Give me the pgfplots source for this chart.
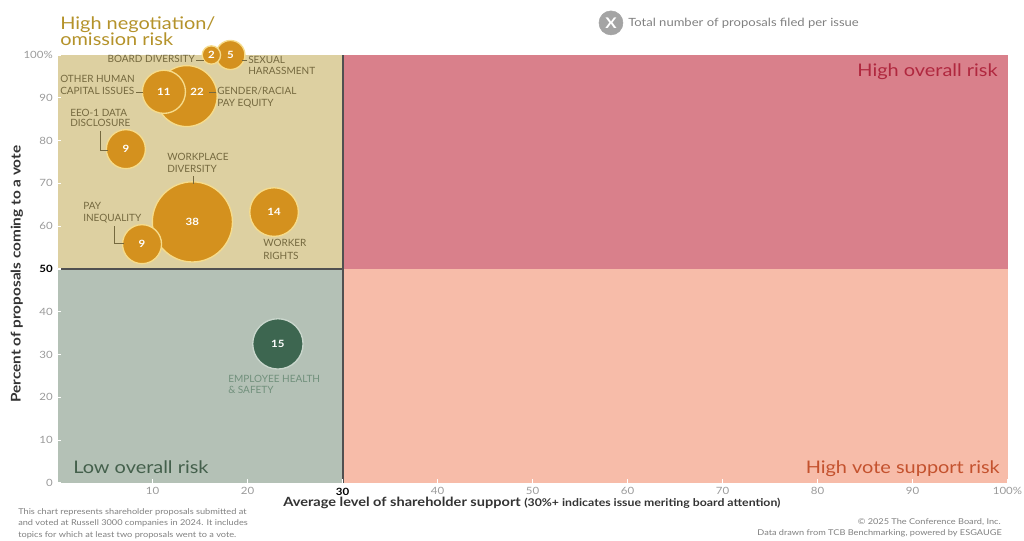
\documentclass[border=0pt]{standalone}
\usepackage{pgfplots}
\pgfplotsset{compat=1.18}
\usepackage{fontspec}
\setmainfont{Lato}[FakeStretch=1.15]
\newfontfamily\lblfont{Lato}
\definecolor{qtan}{HTML}{DDD0A1}
\definecolor{qrose}{HTML}{D9808B}
\definecolor{qgreen}{HTML}{B4C1B6}
\definecolor{qsalmon}{HTML}{F7BCA9}
\definecolor{divider}{HTML}{505050}
\definecolor{gold}{HTML}{D4911E}
\definecolor{goldedge}{HTML}{F6DC8C}
\definecolor{dgreen}{HTML}{3D6650}
\definecolor{dgreenedge}{HTML}{C9D6CC}
\definecolor{titlegold}{HTML}{B4922A}
\definecolor{titlerose}{HTML}{B0283F}
\definecolor{titlegreen}{HTML}{44604C}
\definecolor{titleorange}{HTML}{C4522E}
\definecolor{lbl}{HTML}{75693F}
\definecolor{lblgreen}{HTML}{71907C}
\definecolor{tickgray}{HTML}{9A9A9A}
\definecolor{legendgray}{HTML}{A4A4A4}
\definecolor{notegray}{HTML}{808080}
\definecolor{axlbl}{HTML}{333333}
\newcommand{\fs}[1]{\fontsize{#1}{#1}\selectfont}
% x, y, radius (pt), fill, edge
\newcommand{\bubble}[5]{%
  \addplot[only marks, mark=*, mark size=#3pt,
    mark options={fill=#4, draw=#5, line width=1pt}]
    coordinates {(#1,#2)};}
\begin{document}
\begin{tikzpicture}
\useasboundingbox (-43.125pt,-42.75pt) rectangle (724.875pt,362.25pt);
\begin{axis}[
  scale only axis, width=712.5pt, height=321pt,
  xmin=0, xmax=100, ymin=0, ymax=100,
  clip=false, axis on top,
  axis line style={draw=none},
  xtick={10,20,...,100}, ytick={0,10,...,100},
  xtick pos=bottom, ytick pos=left,
  tick align=inside, major tick length=3pt,
  tick style={white, line width=0.8pt},
  xticklabels={10,20,{\textcolor{black}{\bfseries 30}},40,50,60,70,80,90,100\%},
  yticklabels={0,10,20,30,40,{\textcolor{black}{\bfseries 50}},60,70,80,90,100\%},
  ticklabel style={font=\fs{7.5}, text=tickgray},
  /pgf/number format/assume math mode=true,
]
% quadrants
\fill[qtan] (axis cs:0,50) rectangle (axis cs:30,100);
\fill[qrose] (axis cs:30,50) rectangle (axis cs:100,100);
\fill[qgreen] (axis cs:0,0) rectangle (axis cs:30,50);
\fill[qsalmon] (axis cs:30,0) rectangle (axis cs:100,50);
\draw[divider, line width=1.5pt] (axis cs:30,0) -- (axis cs:30,100);
\draw[divider, line width=1.5pt] (axis cs:0,50) -- (axis cs:30,50);
% bubbles: radius = 4.875*sqrt(count) pt
\bubble{14.2}{61.0}{30.05}{gold}{goldedge}% 38
\bubble{13.6}{90.4}{22.87}{gold}{goldedge}% 22
\bubble{22.8}{63.3}{18.24}{gold}{goldedge}% 14
\bubble{11.2}{91.4}{16.17}{gold}{goldedge}% 11
\bubble{7.2}{78.0}{14.63}{gold}{goldedge}% 9
\bubble{8.9}{55.8}{14.63}{gold}{goldedge}% 9
\bubble{18.2}{100}{10.90}{gold}{goldedge}% 5
\bubble{16.2}{100}{6.89}{gold}{goldedge}% 2
\bubble{23.2}{32.5}{18.88}{dgreen}{dgreenedge}% 15
% counts
\addplot[only marks, mark=none, point meta=explicit symbolic, nodes near coords,
  every node near coord/.append style={anchor=center, inner sep=0, font=\bfseries\fs{7.5}, text=white}]
  coordinates {(14.2,61.0) [38] (14.7,91.4) [22] (22.8,63.3) [14] (11.2,91.4) [11]
               (7.2,78.0) [9] (8.9,55.8) [9] (18.2,100) [5] (16.2,100) [2] (23.2,32.5) [15]};
% legend symbol
\addplot[only marks, mark=*, mark size=9pt, mark options={fill=legendgray, draw=legendgray},
  point meta=explicit symbolic, nodes near coords,
  every node near coord/.append style={anchor=center, inner sep=0, font=\bfseries\fs{11}, text=white}]
  coordinates {(58.26,107.5) [X]};
\end{axis}
\begin{scope}[x=0.75pt, y=-0.75pt, shift={(-43.125pt,362.25pt)}]
% titles
\node[anchor=base west, inner sep=0, text=titlegold, font=\fs{13}] at (60,30) {High negotiation/};
\node[anchor=base west, inner sep=0, text=titlegold, font=\fs{13}] at (60,46) {omission risk};
\node[anchor=base east, inner sep=0, text=titlerose, font=\fs{13}] at (998,77) {High overall risk};
\node[anchor=base west, inner sep=0, text=titlegreen, font=\fs{13}] at (73,473) {Low overall risk};
\node[anchor=base east, inner sep=0, text=titleorange, font=\fs{13}] at (1000,473) {High vote support risk};
% legend text
\node[anchor=base west, inner sep=0, text=notegray, font=\fs{8.5}] at (628,27) {Total number of proposals filed per issue};
% bubble labels
\begin{scope}[every node/.style={inner sep=0, text=lbl, font=\lblfont\fs{7.5}}]
\node[anchor=base east] at (195,63) {BOARD DIVERSITY};
\draw[lbl, line width=0.6pt] (196,60) -- (204,60);
\node[anchor=base west] at (248,64) {SEXUAL};
\node[anchor=base west] at (248,75) {HARASSMENT};
\draw[lbl, line width=0.6pt] (242,60) -- (247,60);
\node[anchor=base west] at (60,83) {OTHER HUMAN};
\node[anchor=base west] at (60,95) {CAPITAL ISSUES};
\draw[lbl, line width=0.6pt] (136,92) -- (143,92);
\node[anchor=base west] at (217,95) {GENDER/RACIAL};
\node[anchor=base west] at (217,107) {PAY EQUITY};
\draw[lbl, line width=0.6pt] (209,92) -- (216,92);
\node[anchor=base west] at (70,116) {EEO-1 DATA};
\node[anchor=base west] at (70,127) {DISCLOSURE};
\draw[lbl, line width=0.6pt] (100,131) -- (100,150) -- (108,150);
\node[anchor=base west] at (167,160) {WORKPLACE};
\node[anchor=base west] at (167,172) {DIVERSITY};
\draw[lbl, line width=0.6pt] (193,176) -- (193,184);
\node[anchor=base west] at (83,209) {PAY};
\node[anchor=base west] at (83,221) {INEQUALITY};
\draw[lbl, line width=0.6pt] (114,226) -- (114,243) -- (124,243);
\node[anchor=base west] at (263,246) {WORKER};
\node[anchor=base west] at (263,259) {RIGHTS};
\node[anchor=base west, text=lblgreen] at (228,382) {EMPLOYEE HEALTH};
\node[anchor=base west, text=lblgreen] at (228,393) {\& SAFETY};
\end{scope}
% axis labels
\node[anchor=base west, inner sep=0, text=axlbl] at (283,506) {\bfseries\fs{9.5}Average level of shareholder support {\fs{8}(30\%+ indicates issue meriting board attention)}};
\node[rotate=90, anchor=center, inner sep=0, text=axlbl, font=\bfseries\fs{10}] at (17,274) {Percent of proposals coming to a vote};
% notes
\begin{scope}[every node/.style={inner sep=0, text=notegray, font=\fs{6}}]
\node[anchor=base west] at (18,514) {This chart represents shareholder proposals submitted at};
\node[anchor=base west] at (18,525) {and voted at Russell 3000 companies in 2024. It includes};
\node[anchor=base west] at (18,537) {topics for which at least two proposals went to a vote.};
\node[anchor=base east] at (1001,524) {\textcopyright{} 2025 The Conference Board, Inc.};
\node[anchor=base east] at (1002,535) {Data drawn from TCB Benchmarking, powered by ESGAUGE};
\end{scope}
\end{scope}
\end{tikzpicture}
\end{document}
